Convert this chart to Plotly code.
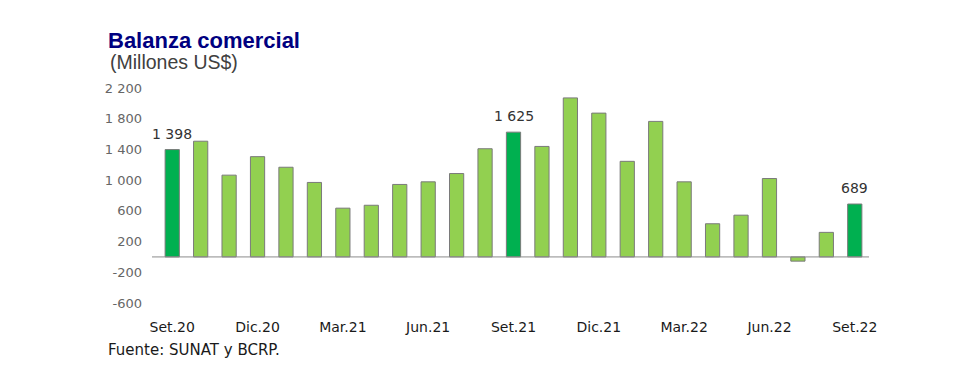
import plotly.graph_objects as go

months = ["Set.20", "Oct.20", "Nov.20", "Dic.20", "Ene.21", "Feb.21", "Mar.21", "Abr.21",
          "May.21", "Jun.21", "Jul.21", "Ago.21", "Set.21", "Oct.21", "Nov.21", "Dic.21",
          "Ene.22", "Feb.22", "Mar.22", "Abr.22", "May.22", "Jun.22", "Jul.22", "Ago.22", "Set.22"]
balance = [1398, 1507, 1065, 1306, 1168, 970, 635, 673, 944, 978, 1086, 1409, 1625,
           1439, 2071, 1873, 1245, 1765, 978, 432, 544, 1021, -55, 320, 689]
highlight = ["Set.20", "Set.21", "Set.22"]
label_text = {"Set.20": "1 398", "Set.21": "1 625", "Set.22": "689"}
x_ticks = ["Set.20", "Dic.20", "Mar.21", "Jun.21", "Set.21", "Dic.21", "Mar.22", "Jun.22", "Set.22"]
y_ticks = [-600, -200, 200, 600, 1000, 1400, 1800, 2200]
y_tick_text = ["-600", "-200", "200", "600", "1 000", "1 400", "1 800", "2 200"]

DARK = "#00B050"
LIGHT = "#92D050"
colors = [DARK if m in highlight else LIGHT for m in months]

fig = go.Figure()
fig.add_trace(go.Bar(
    x=months, y=balance, width=0.5,
    marker=dict(color=colors, line=dict(color="#7a7a7a", width=1)),
    hoverinfo="x+y",
))

annotations = []
for m, v in zip(months, balance):
    if m in label_text:
        annotations.append(dict(
            x=m, y=v, xref="x", yref="y", text=label_text[m], showarrow=False,
            yanchor="bottom", yshift=6,
            font=dict(family="DejaVu Sans", size=14, color="#333333"),
        ))

OFF = 8  # page body margin
W, H = 977 - OFF, 391 - OFF
# page-pixel plot area: x 158..869, y 88..303
L, R, T, B = 158 - OFF, 977 - 869, 88 - OFF, 391 - OFF - (303 - OFF)
PW, PH = W - L - R, H - T - B

def px_x(p):
    return (p - OFF - L) / PW

def px_y(p):
    return (H - B - (p - OFF)) / PH

annotations.append(dict(
    x=px_x(108), y=px_y(62), xref="paper", yref="paper", xanchor="left", yanchor="middle",
    text="(Millones US$)", showarrow=False,
    font=dict(family="Liberation Sans, Arial", size=19.5, color="#404040"),
))
annotations.append(dict(
    x=px_x(106), y=px_y(350), xref="paper", yref="paper", xanchor="left", yanchor="middle",
    text="Fuente: SUNAT y BCRP.", showarrow=False,
    font=dict(family="DejaVu Sans", size=15, color="#1a1a1a"),
))
# zero baseline extends slightly left of the first category, as in the original
fig.add_shape(type="line", xref="paper", yref="y", x0=px_x(152), x1=1, y0=0, y1=0,
              line=dict(color="#8c8c8c", width=1))

fig.update_layout(
    width=W, height=H,
    margin=dict(l=L, r=R, t=T, b=B),
    paper_bgcolor="white", plot_bgcolor="white",
    showlegend=False,
    bargap=0.5,
    title=dict(
        text="<b>Balanza comercial</b>",
        x=(108 - OFF) / W, xanchor="left", y=1 - (40 - OFF) / H, yanchor="middle",
        font=dict(family="Liberation Sans, Arial", size=22, color="#000080"),
    ),
    annotations=annotations,
)
fig.update_xaxes(
    type="category", range=[-0.5, len(months) - 0.5],
    tickmode="array", tickvals=x_ticks, ticktext=x_ticks,
    showgrid=False, showline=False, ticks="", zeroline=False,
    ticklabelstandoff=14,
    tickfont=dict(family="DejaVu Sans", size=14, color="#1a1a1a"),
)
fig.update_yaxes(
    range=[-600, 2200], tickmode="array", tickvals=y_ticks, ticktext=y_tick_text,
    showgrid=False, showline=False, ticks="", zeroline=False,
    ticklabelstandoff=15,
    tickfont=dict(family="DejaVu Sans", size=13, color="#666666"),
)

fig.write_html("out.html")
